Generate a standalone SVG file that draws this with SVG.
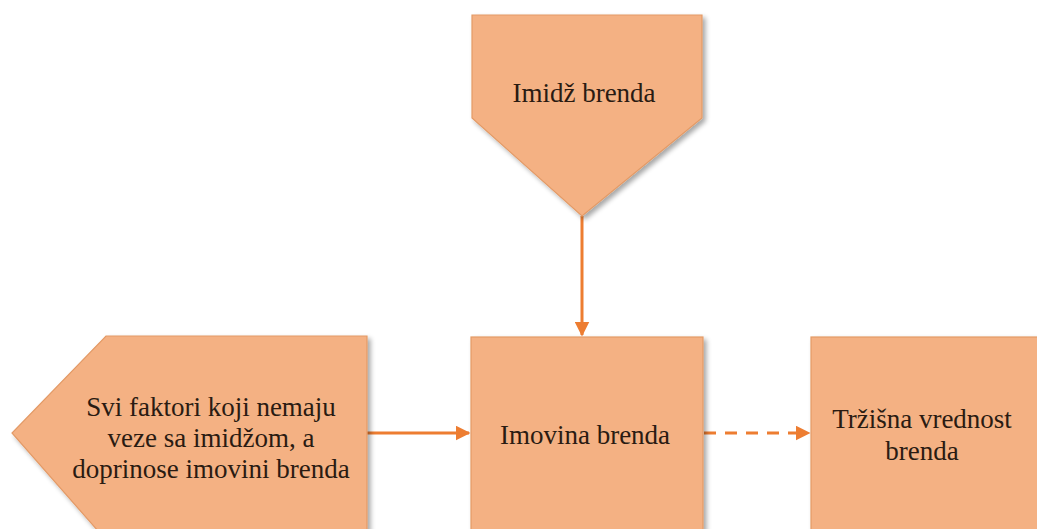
<svg xmlns="http://www.w3.org/2000/svg" width="1037" height="529" viewBox="0 0 1037 529">
  <defs>
    <style>
      .node { fill: #F4B183; stroke: #E39A66; stroke-width: 1.2; filter: url(#shadow); }
      .label { font-family: 'Liberation Serif', 'Times New Roman', serif; font-size: 27px; fill: #2A1B12; text-anchor: middle; }
      .link { stroke: #ED7D31; stroke-width: 3; fill: none; }
      .dash { stroke-dasharray: 12 9; }
    </style>
    <filter id="shadow" x="-10%" y="-10%" width="125%" height="125%">
      <feGaussianBlur in="SourceAlpha" stdDeviation="2.5"/>
      <feOffset dx="3" dy="3" result="blur"/>
      <feComponentTransfer><feFuncA type="linear" slope="0.35"/></feComponentTransfer>
      <feMerge><feMergeNode/><feMergeNode in="SourceGraphic"/></feMerge>
    </filter>
    <marker id="arrow" viewBox="0 0 10 10" refX="9" refY="5" markerWidth="5" markerHeight="5" orient="auto" markerUnits="strokeWidth">
      <path d="M0,0 L10,5 L0,10 z" fill="#ED7D31"/>
    </marker>
  </defs>
  <rect width="1037" height="529" fill="#FFFFFF"/>

  <g id="connectors">
    <line class="link" x1="582" y1="216" x2="582" y2="335" marker-end="url(#arrow)"/>
    <line class="link" x1="367" y1="433" x2="469" y2="433" marker-end="url(#arrow)"/>
    <line class="link dash" x1="704" y1="433" x2="809" y2="433" marker-end="url(#arrow)"/>
  </g>

  <g id="imidz-brenda">
    <polygon class="node" points="472,15 702,15 702,118 582,216 472,118"/>
    <text class="label" x="584" y="102">Imidž brenda</text>
  </g>

  <g id="svi-faktori">
    <polygon class="node" points="106,336 367,336 367,540 106,540 12,433"/>
    <text class="label" x="211" y="416">Svi faktori koji nemaju</text>
    <text class="label" x="211" y="447">veze sa imidžom, a</text>
    <text class="label" x="211" y="478">doprinose imovini brenda</text>
  </g>

  <g id="imovina-brenda">
    <rect class="node" x="471" y="337" width="232" height="210"/>
    <text class="label" x="585" y="444">Imovina brenda</text>
  </g>

  <g id="trzisna-vrednost">
    <rect class="node" x="811" y="337" width="240" height="210"/>
    <text class="label" x="922" y="428">Tržišna vrednost</text>
    <text class="label" x="922" y="460">brenda</text>
  </g>
</svg>
